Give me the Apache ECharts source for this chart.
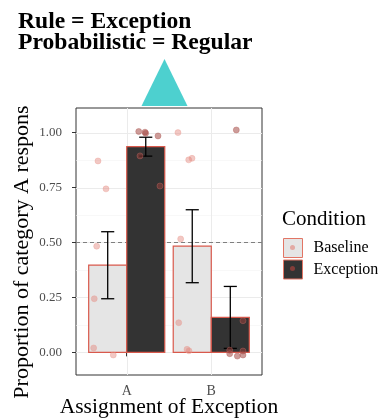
<!DOCTYPE html>
<html><head><meta charset="utf-8">
<script src="https://cdn.jsdelivr.net/npm/echarts@6/dist/echarts.min.js"></script>
<style>html,body{margin:0;padding:0;background:#fff}#c{width:383px;height:419px}</style>
</head><body><div id="c"></div>
<script>
const FONT = 'Liberation Serif';
const categories = ['A', 'B'];
const conditions = ['Baseline', 'Exception'];
const yTicks = [0, 0.25, 0.5, 0.75, 1];
const yMinor = [0.125, 0.375, 0.625, 0.875];
const refLine = [0.5];
const baselineMean = [0.397, 0.483];
const baselineLow = [0.244, 0.317];
const baselineHigh = [0.549, 0.649];
const exceptionMean = [0.936, 0.159];
const exceptionLow = [0.893, 0.018];
const exceptionHigh = [0.979, 0.300];
// jittered individual points: [x position on category scale, proportion]
const baselinePoints = [
  [0.660, 0.871], [0.755, 0.744], [0.645, 0.483], [0.616, 0.244], [0.609, 0.020], [0.841, -0.012],
  [1.606, 1.000], [1.733, 0.876], [1.772, 0.883], [1.638, 0.516], [1.615, 0.135], [1.713, 0.014], [1.736, 0.007]
];
const exceptionPoints = [
  [1.142, 1.005], [1.216, 1.002], [1.224, 0.997], [1.370, 0.985], [1.157, 0.894], [1.393, 0.757],
  [2.296, 1.012], [2.375, 0.144], [2.218, 0.010], [2.218, -0.006], [2.308, -0.017], [2.375, 0.006], [2.375, -0.012]
];

const DODGE = 0.225, BARW = 0.45, CAPW = 0.155;
const BORDER = '#d9594c';
const fills = { Baseline: '#e5e5e5', Exception: '#333333' };

const chart = echarts.init(document.getElementById('c'), null, { renderer: 'canvas' });

function barSeries(name, means, offset) {
  return {
    name: name, type: 'custom', z: 3,
    data: means.map((v, i) => [i + 1 + offset, v]),
    itemStyle: { color: fills[name], borderColor: BORDER, borderWidth: 1.2 },
    renderItem: function (params, api) {
      const x = api.value(0), y = api.value(1);
      const p0 = api.coord([x - BARW / 2, y]);
      const p1 = api.coord([x + BARW / 2, 0]);
      return { type: 'rect', shape: { x: p0[0], y: p0[1], width: p1[0] - p0[0], height: p1[1] - p0[1] },
        style: { fill: fills[name], stroke: BORDER, lineWidth: 1.2 } };
    }
  };
}
function errSeries(name, lows, highs, offset) {
  return {
    name: name + ' SE', type: 'custom', z: 4,
    data: lows.map((v, i) => [i + 1 + offset, v, highs[i]]),
    encode: { x: 0, y: [1, 2] },
    renderItem: function (params, api) {
      const x = api.value(0);
      const lo = api.coord([x, api.value(1)]), hi = api.coord([x, api.value(2)]);
      const l = api.coord([x - CAPW / 2, 0])[0], r = api.coord([x + CAPW / 2, 0])[0];
      const st = { stroke: '#000', lineWidth: 1.3 };
      return { type: 'group', children: [
        { type: 'line', shape: { x1: lo[0], y1: lo[1], x2: hi[0], y2: hi[1] }, style: st },
        { type: 'line', shape: { x1: l, y1: lo[1], x2: r, y2: lo[1] }, style: st },
        { type: 'line', shape: { x1: l, y1: hi[1], x2: r, y2: hi[1] }, style: st }
      ] };
    }
  };
}
function hLines(name, vals, color, width, dash, z) {
  return {
    name: name, type: 'custom', z: z, silent: true,
    data: vals.map(v => [1, v]),
    renderItem: function (params, api) {
      const cs = params.coordSys;
      const y = Math.round(api.coord([1, api.value(1)])[1]) + 0.5;
      return { type: 'line', shape: { x1: cs.x, y1: y, x2: cs.x + cs.width, y2: y },
        style: { stroke: color, lineWidth: width, lineDash: dash } };
    }
  };
}
function vLines(name, vals, color, width, z) {
  return {
    name: name, type: 'custom', z: z, silent: true,
    data: vals.map(v => [v, 0]),
    renderItem: function (params, api) {
      const cs = params.coordSys;
      const x = Math.round(api.coord([api.value(0), 0])[0]) + 0.5;
      return { type: 'line', shape: { x1: x, y1: cs.y, x2: x, y2: cs.y + cs.height },
        style: { stroke: color, lineWidth: width } };
    }
  };
}

const option = {
  animation: false,
  backgroundColor: '#fff',
  title: [
    { text: 'Rule = Exception\nProbabilistic = Regular', left: 18, top: 11, padding: 0,
      textStyle: { fontFamily: FONT, fontWeight: 'bold', fontSize: 23.6, lineHeight: 21.5, color: '#000' } },
    { text: 'Condition', left: 282, top: 209, padding: 0,
      textStyle: { fontFamily: FONT, fontWeight: 'normal', fontSize: 21, color: '#000' } }
  ],
  legend: {
    orient: 'vertical', left: 283, top: 238, padding: 0, itemWidth: 19, itemHeight: 19, itemGap: 1.5,
    icon: 'rect',
    data: [
      { name: 'Baseline', itemStyle: { color: fills.Baseline, borderColor: '#e27565', borderWidth: 1 } },
      { name: 'Exception', itemStyle: { color: fills.Exception, borderColor: '#e27565', borderWidth: 1 } }
    ],
    textStyle: { fontFamily: FONT, fontSize: 16, color: '#000', padding: [0, 0, 0, 6] },
    selectedMode: false
  },
  grid: { left: 76, top: 108, right: 121, bottom: 44, show: true, borderColor: '#333', borderWidth: 1, backgroundColor: 'transparent', containLabel: false, outerBoundsMode: 'none' },
  xAxis: {
    type: 'value', min: 0.4, max: 2.6,
    axisLine: { show: false }, splitLine: { show: false },
    axisTick: { show: true, customValues: [1, 2], length: 4, lineStyle: { color: '#333' } },
    axisLabel: { customValues: [1, 2], formatter: v => categories[Math.round(v) - 1], color: '#4d4d4d', fontSize: 14, fontFamily: FONT, margin: 9 },
    name: 'Assignment of Exception', nameLocation: 'middle', nameGap: 21, nameMoveOverlap: false,
    nameTextStyle: { fontFamily: FONT, fontSize: 21.5, color: '#000' }
  },
  yAxis: {
    type: 'value', min: -0.103, max: 1.112,
    axisLine: { show: false }, splitLine: { show: false },
    axisTick: { show: true, customValues: yTicks, length: 4, lineStyle: { color: '#333' } },
    axisLabel: { customValues: yTicks, formatter: v => v.toFixed(2), color: '#4d4d4d', fontSize: 13, fontFamily: FONT, margin: 14 }
  },
  graphic: [
    { type: 'polygon', shape: { points: [[164.5, 59], [141.5, 106], [187.5, 106]] }, style: { fill: '#4dd0cf' }, z: 10 },
    { type: 'text', x: 22, y: 252, rotation: Math.PI / 2,
      style: { text: 'Proportion of category A respons', font: '22px "Liberation Serif"', fill: '#000', align: 'center', verticalAlign: 'middle', textAlign: 'center', textVerticalAlign: 'middle' } },
    { type: 'circle', shape: { cx: 292.5, cy: 247.5, r: 2.5 }, style: { fill: 'rgba(225,130,120,0.6)' }, z: 100 },
    { type: 'circle', shape: { cx: 292.5, cy: 268.5, r: 2.5 }, style: { fill: 'rgba(160,65,60,0.75)' }, z: 100 }
  ],
  series: [
    hLines('minor', yMinor, '#f4f4f4', 0.6, null, 1),
    hLines('major', yTicks, '#ebebeb', 1, null, 1),
    vLines('vmajor', [1, 2], '#ebebeb', 1, 1),
    hLines('ref', refLine, '#7f7f7f', 1.1, [4, 3], 2),
    barSeries('Baseline', baselineMean, -DODGE),
    barSeries('Exception', exceptionMean, DODGE),
    errSeries('Baseline', baselineLow, baselineHigh, -DODGE),
    errSeries('Exception', exceptionLow, exceptionHigh, DODGE),
    { name: 'Baseline points', type: 'scatter', z: 5, symbolSize: 6, data: baselinePoints,
      itemStyle: { color: 'rgba(225,130,120,0.55)', borderColor: 'rgba(235,160,150,0.5)', borderWidth: 1 } },
    { name: 'Exception points', type: 'scatter', z: 5, symbolSize: 6, data: exceptionPoints,
      itemStyle: { color: 'rgba(160,65,60,0.65)', borderColor: 'rgba(180,100,95,0.55)', borderWidth: 1 } }
  ]
};
chart.setOption(option);
</script></body></html>
